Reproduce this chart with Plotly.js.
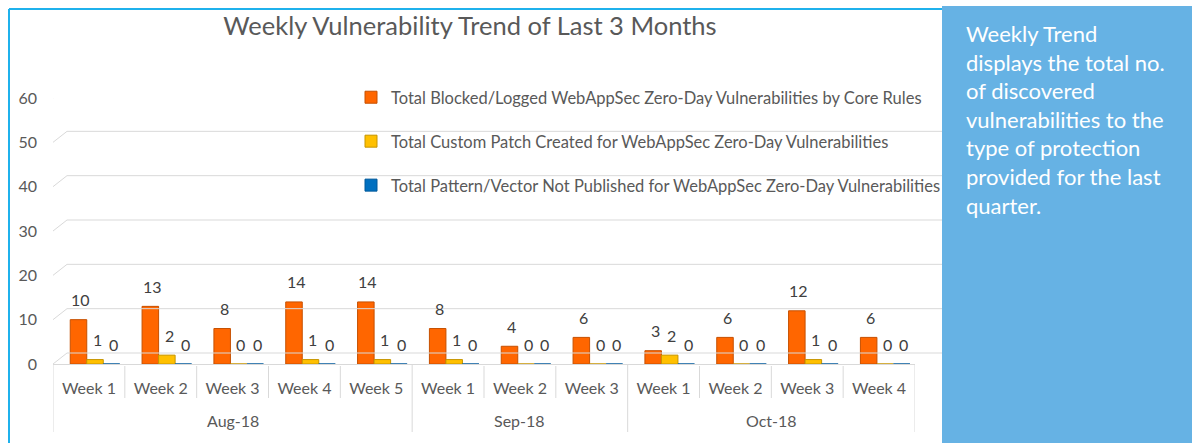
<!DOCTYPE html>
<html>
<head>
<meta charset="utf-8">
<script src="https://cdn.plot.ly/plotly-3.0.1.min.js"></script>
<style>
  html, body { margin: 0; padding: 0; background: #ffffff; }
  #chart { width: 1192px; height: 443px; }
</style>
</head>
<body>
<div id="chart"></div>
<script>
// ---------------- data ----------------
const months = ['Aug-18', 'Aug-18', 'Aug-18', 'Aug-18', 'Aug-18',
                'Sep-18', 'Sep-18', 'Sep-18',
                'Oct-18', 'Oct-18', 'Oct-18', 'Oct-18'];
const weeks = ['Week 1', 'Week 2', 'Week 3', 'Week 4', 'Week 5',
               'Week 1', 'Week 2', 'Week 3',
               'Week 1', 'Week 2', 'Week 3', 'Week 4'];
const blocked = [10, 13, 8, 14, 14, 8, 4, 6, 3, 6, 12, 6];
const customPatch = [1, 2, 0, 1, 1, 1, 0, 0, 2, 0, 1, 0];
const notPublished = [0, 0, 0, 0, 0, 0, 0, 0, 0, 0, 0, 0];
const seriesNames = [
  'Total Blocked/Logged WebAppSec Zero-Day Vulnerabilities by Core Rules',
  'Total Custom Patch Created for WebAppSec Zero-Day Vulnerabilities',
  'Total Pattern/Vector Not Published for WebAppSec Zero-Day Vulnerabilities'
];
const yTicks = [0, 10, 20, 30, 40, 50, 60];
const titleText = 'Weekly Vulnerability Trend of Last 3 Months';
const panelLines = ['Weekly Trend', 'displays the total no.', 'of discovered',
                    'vulnerabilities to the', 'type of protection',
                    'provided for the last', 'quarter.'];

// ---------------- layout helpers ----------------
const L = 53, R = 915, T = 98, B = 364;
const px = p => (p - L) / (R - L);
const py = p => (B - p) / (B - T);
const FONT = 'Lato, "Open Sans", sans-serif';
const GRID = '#d9d9d9';
const TXT = '#595959';

const idx = weeks.map((_, i) => i);
const seriesVals = [blocked, customPatch, notPublished];
const colors = ['#ff6600', '#ffc000', '#0070c0'];
const edge = ['#c65000', '#c69500', '#00589a'];
const barW = 0.23;
const offsets = [-0.26, -0.03, 0.20];

const traces = seriesVals.map((vals, s) => ({
  type: 'bar',
  name: seriesNames[s],
  x: idx,
  y: vals,
  width: barW,
  offset: offsets[s],
  legendgroup: 'g' + s,
  marker: { color: colors[s], line: { color: edge[s], width: 1 } },
  hoverinfo: 'skip'
}));

const annotations = [];
seriesVals.forEach((vals, s) => {
  vals.forEach((v, i) => {
    annotations.push({
      xref: 'x', yref: 'y',
      x: i + offsets[s] + barW / 2 + 0.03, y: v,
      yanchor: 'middle', xanchor: 'center', yshift: 20,
      text: String(v), showarrow: false,
      font: { family: FONT, size: 16, color: '#404040' }
    });
  });
});

// month group labels
const groups = [];
months.forEach((m, i) => {
  if (!groups.length || groups[groups.length - 1].name !== m) groups.push({ name: m, start: i, end: i });
  else groups[groups.length - 1].end = i;
});
groups.forEach(g => {
  annotations.push({
    xref: 'x', yref: 'paper', x: (g.start + g.end) / 2, y: py(420),
    yanchor: 'middle', text: g.name, showarrow: false,
    font: { family: FONT, size: 16, color: TXT }
  });
});

// panel text
annotations.push({
  xref: 'paper', yref: 'paper', x: px(964), y: py(18),
  xanchor: 'left', yanchor: 'top', align: 'left', showarrow: false,
  text: panelLines.join('<br>'),
  font: { family: FONT, size: 22, color: '#ffffff' }
});

const shapes = [];
// 3D-like back gridlines
yTicks.forEach(v => {
  shapes.push({ type: 'line', xref: 'paper', x0: 0, x1: px(67),
    yref: 'y', ysizemode: 'pixel', yanchor: v, y0: 0, y1: 11,
    line: { color: GRID, width: 1 } });
  shapes.push({ type: 'line', xref: 'paper', x0: px(67), x1: px(945),
    yref: 'y', ysizemode: 'pixel', yanchor: v, y0: 11, y1: 11,
    line: { color: GRID, width: 1 } });
});
// category dividers
const monthBounds = new Set([0, weeks.length]);
groups.forEach(g => monthBounds.add(g.start));
for (let b = 0; b <= weeks.length; b++) {
  const isMonth = monthBounds.has(b);
  shapes.push({ type: 'line', xref: 'x', x0: b - 0.5, x1: b - 0.5,
    yref: 'paper', y0: py(isMonth ? 364 : 366), y1: py(isMonth ? 432 : 398),
    line: { color: GRID, width: 1 } });
}
// cyan border of chart area
shapes.push({ type: 'line', xref: 'paper', yref: 'paper', x0: px(9), x1: px(942), y0: py(9), y1: py(9),
  line: { color: '#1fb1ec', width: 2 } });
shapes.push({ type: 'line', xref: 'paper', yref: 'paper', x0: px(9), x1: px(9), y0: py(9), y1: py(446),
  line: { color: '#1fb1ec', width: 2 } });
// blue side panel
shapes.push({ type: 'rect', xref: 'paper', yref: 'paper', x0: px(942), x1: px(1196), y0: py(6), y1: py(447),
  fillcolor: '#66b2e4', line: { width: 0 }, layer: 'above' });

const layout = {
  width: 1192, height: 443,
  margin: { l: L, r: 1192 - R, t: T, b: 443 - B, pad: 0 },
  paper_bgcolor: '#ffffff', plot_bgcolor: 'rgba(0,0,0,0)',
  font: { family: FONT, color: TXT },
  title: {
    text: titleText, xref: 'container', x: 470 / 1192, xanchor: 'center',
    yref: 'container', y: 1 - 26 / 443, yanchor: 'middle',
    font: { family: FONT, size: 25.5, color: TXT }
  },
  barmode: 'overlay',
  showlegend: true,
  legend: {
    x: px(351), y: py(80), xanchor: 'left', yanchor: 'top',
    bgcolor: 'rgba(0,0,0,0)', traceorder: 'grouped', tracegroupgap: 19.5,
    font: { family: FONT, size: 16.5, color: TXT }
  },
  xaxis: {
    type: 'linear', range: [-0.5, weeks.length - 0.5],
    tickvals: idx, ticktext: weeks, ticks: '', showgrid: false, zeroline: false,
    showline: true, linecolor: GRID, linewidth: 1,
    tickfont: { family: FONT, size: 16, color: TXT }, ticklabelstandoff: 10, fixedrange: true
  },
  yaxis: {
    range: [0, 60], tickvals: yTicks, ticks: '', showgrid: false, zeroline: false, showline: false,
    tickfont: { family: FONT, size: 16, color: TXT }, ticklabelstandoff: 15, fixedrange: true
  },
  shapes: shapes,
  annotations: annotations
};

Plotly.newPlot('chart', traces, layout, { displayModeBar: false, staticPlot: true });
</script>
</body>
</html>
